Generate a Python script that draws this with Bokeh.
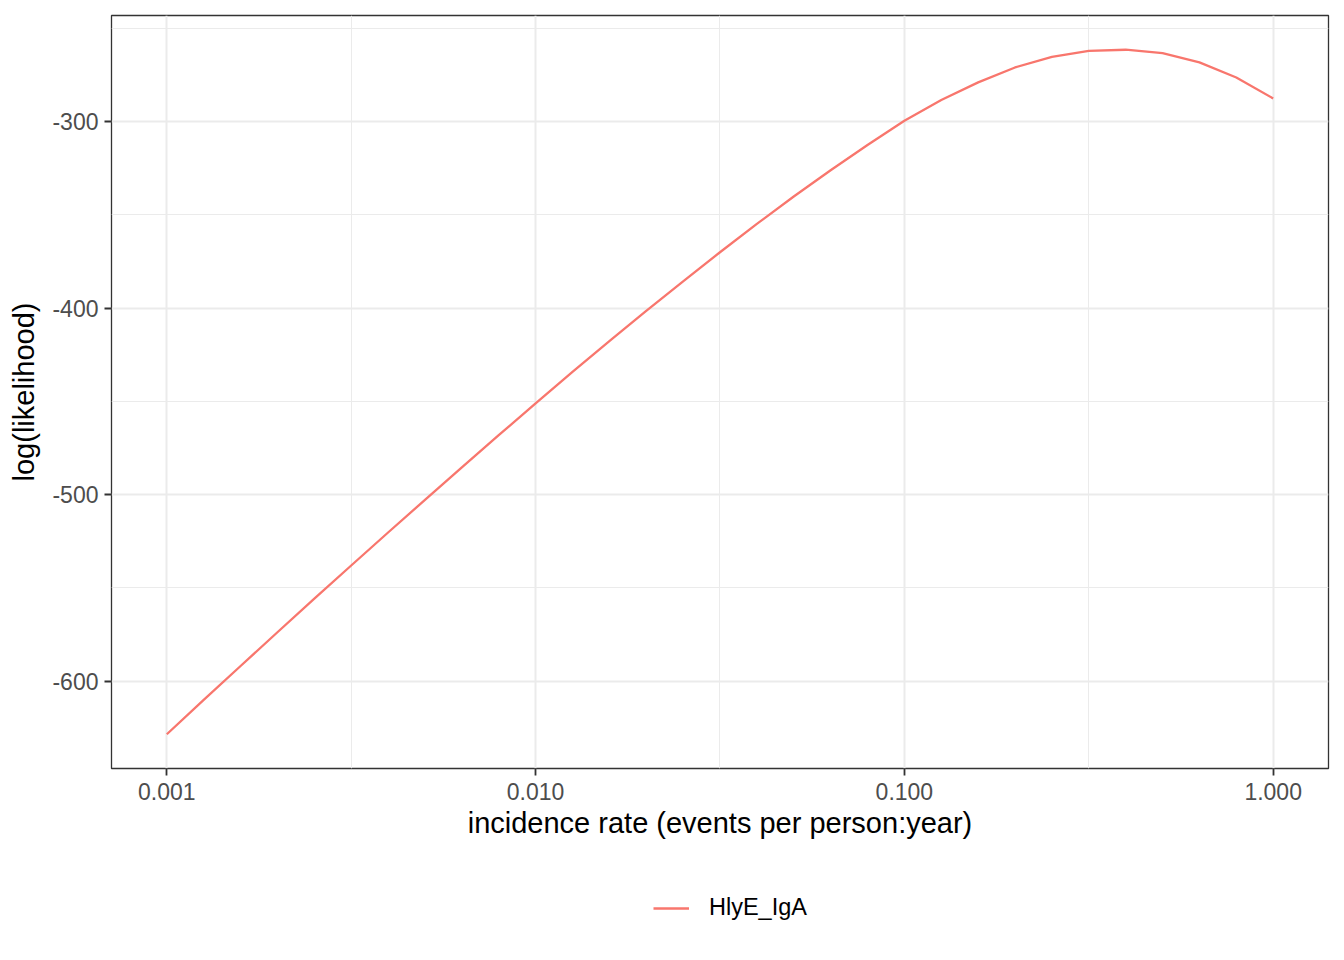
import math
from bokeh.plotting import figure
from bokeh.layouts import column
from bokeh.models import (ColumnDataSource, Range1d, FixedTicker, PrintfTickFormatter,
                          Legend, LegendItem)
from bokeh.embed import file_html
from bokeh.resources import INLINE

# incidence rates (events per person:year), 0.1-decade grid
incidence_rate = [0.001, 0.001259, 0.001585, 0.001995, 0.002512, 0.003162, 0.003981,
                  0.005012, 0.00631, 0.007943, 0.01, 0.01259, 0.01585, 0.01995,
                  0.02512, 0.03162, 0.03981, 0.05012, 0.0631, 0.07943, 0.1,
                  0.1259, 0.1585, 0.1995, 0.2512, 0.3162, 0.3981, 0.5012, 0.631,
                  0.7943, 1.0]
# log(likelihood)
log_likelihood = [-628.5, -610.1, -591.9, -573.8, -555.8, -538.0, -520.3, -502.8,
                  -485.4, -468.1, -451.0, -434.2, -417.7, -401.5, -385.6, -370.0,
                  -354.8, -340.1, -326.0, -312.5, -299.5, -288.4, -278.9, -270.9,
                  -265.2, -262.0, -261.4, -263.2, -268.2, -276.3, -287.5]
series_name = "HlyE_IgA"
x_major = [0.001, 0.01, 0.1, 1.0]
x_minor = [0.0003162, 0.003162, 0.03162, 0.3162, 3.162]
y_major = [-600, -500, -400, -300]
y_minor = [-650, -550, -450, -350, -250]

FONT = "Liberation Sans"
LINE_COLOR = "#F8766D"

lx = [math.log10(v) for v in incidence_rate]
xspan = max(lx) - min(lx)
x0 = 10 ** (min(lx) - 0.05 * xspan)
x1 = 10 ** (max(lx) + 0.05 * xspan)
yspan = max(log_likelihood) - min(log_likelihood)
y0 = min(log_likelihood) - 0.05 * yspan
y1 = max(log_likelihood) + 0.05 * yspan

p = figure(frame_width=1217, frame_height=753, x_axis_type="log",
           x_range=Range1d(x0, x1), y_range=Range1d(y0, y1),
           output_backend="svg", toolbar_location=None,
           min_border_left=111, min_border_right=12, min_border_top=15,
           min_border_bottom=90)

p.background_fill_color = "white"
p.border_fill_color = "white"
p.outline_line_color = "#333333"
p.outline_line_width = 1.3

src = ColumnDataSource(dict(x=incidence_rate, y=log_likelihood))
r = p.line("x", "y", source=src, line_color=LINE_COLOR, line_width=2.3)

# grids
p.xaxis.ticker = FixedTicker(ticks=x_major, minor_ticks=x_minor)
p.yaxis.ticker = FixedTicker(ticks=y_major, minor_ticks=y_minor)
for g in (p.xgrid, p.ygrid):
    g.grid_line_color = "#EBEBEB"
    g.grid_line_width = 2
    g.minor_grid_line_color = "#EBEBEB"
    g.minor_grid_line_width = 1

# axes
for ax in (p.xaxis, p.yaxis):
    ax.axis_line_color = None
    ax.major_tick_line_color = "#333333"
    ax.major_tick_line_width = 1.8
    ax.major_tick_out = 7
    ax.major_tick_in = 0
    ax.minor_tick_line_color = None
    ax.major_label_text_font = FONT
    ax.major_label_text_font_size = "23px"
    ax.major_label_text_color = "#4D4D4D"
    ax.axis_label_text_font = FONT
    ax.axis_label_text_font_size = "29px"
    ax.axis_label_text_font_style = "normal"
    ax.axis_label_text_color = "black"

p.xaxis.formatter = PrintfTickFormatter(format="%.3f")
p.yaxis.formatter = PrintfTickFormatter(format="%d")
p.xaxis.axis_label = "incidence rate (events per person:year)"
p.yaxis.axis_label = "log(likelihood)"
p.xaxis.major_label_standoff = 7
p.xaxis.axis_label_standoff = 4
p.yaxis.major_label_standoff = 6
p.yaxis.axis_label_standoff = 9

# legend strip below the plot (its frame is aligned with the main frame)
leg = figure(width=1340, height=100, x_range=Range1d(0, 1), y_range=Range1d(0, 1),
             output_backend="svg", toolbar_location=None,
             x_axis_location=None, y_axis_location=None, min_border=0)
leg.outline_line_color = None
leg.xgrid.visible = False
leg.ygrid.visible = False
leg.background_fill_color = "white"
leg.border_fill_color = "white"
# same series, but outside this strip's ranges: only its legend key shows
rl = leg.line("x", "y", source=src, line_color=LINE_COLOR, line_width=2.3)
legend = Legend(items=[LegendItem(label=series_name, renderers=[rl])],
                location=(542, 37), orientation="horizontal",
                glyph_width=36, glyph_height=26, label_standoff=20,
                label_text_font=FONT, label_text_font_size="23.5px",
                label_text_color="black",
                border_line_color=None, background_fill_color=None,
                margin=0, padding=0)
leg.add_layout(legend, "center")

layout = column(p, leg, spacing=0)
open("out.html", "w").write(file_html(layout, INLINE))
